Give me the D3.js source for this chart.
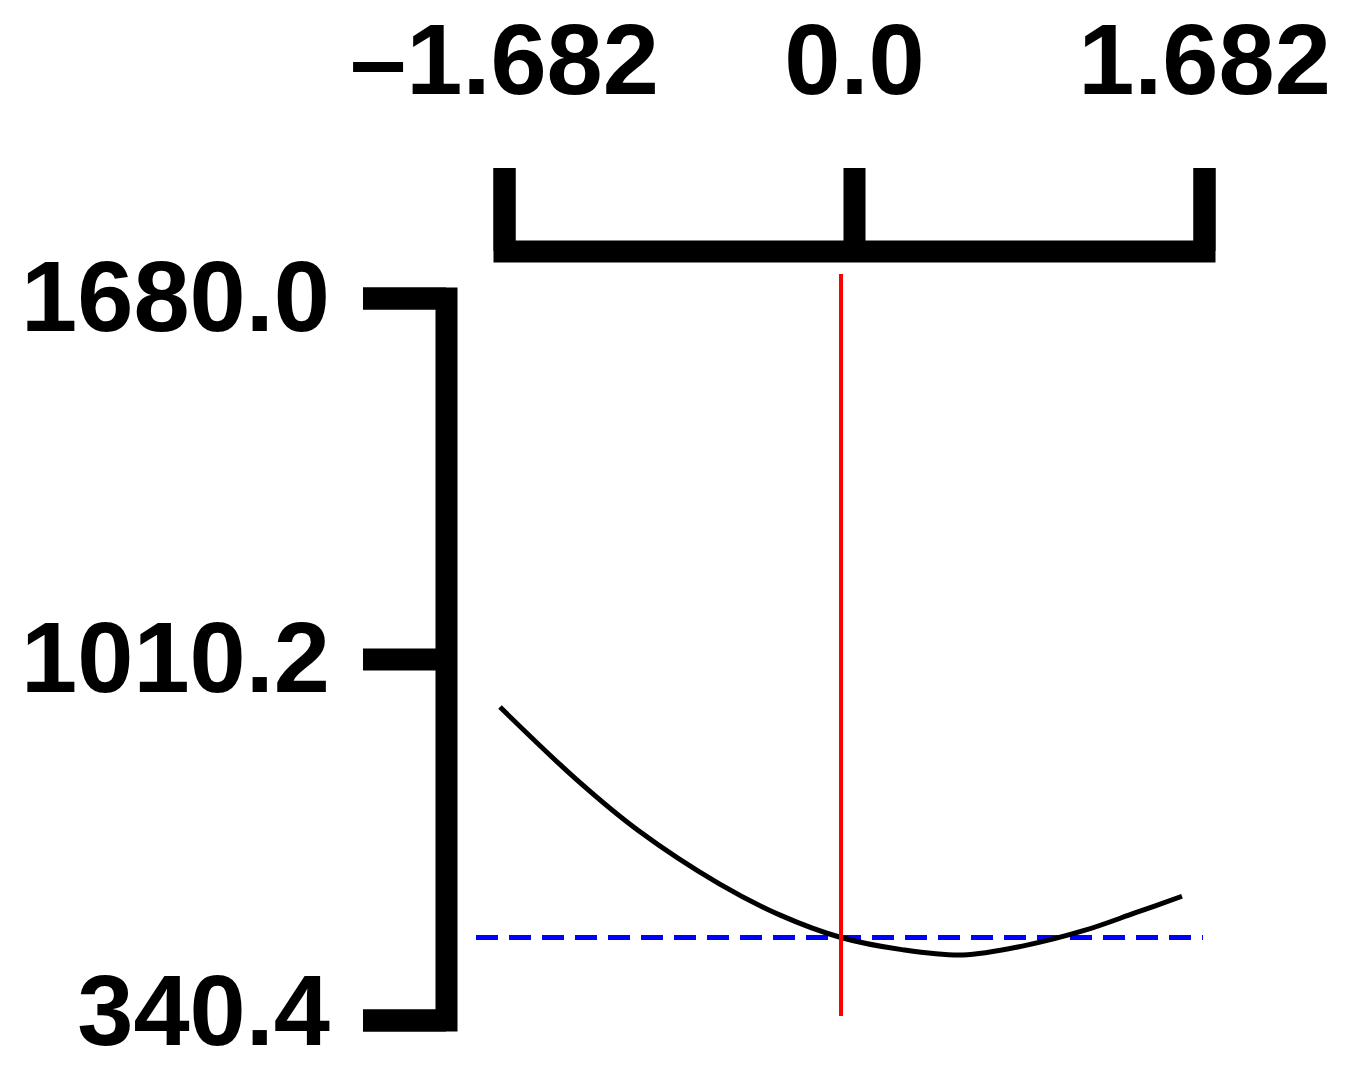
<!DOCTYPE html>
<html lang="en">
	<head>
		<meta charset="utf-8">
		<title> Profiler chart </title>
		<script type="text/javascript" src="https://cdn.jsdelivr.net/npm/d3@7/dist/d3.min.js"></script>
		<style>
			body { margin: 0; background: #ffffff; }
		</style>
	</head>
	<body>
		<script type="text/javascript">
			// tick values and labels
			var xTicks = [-1.682, 0.0, 1.682];
			var xTickLabels = ["\u20131.682", "0.0", "1.682"];
			var yTicks = [340.4, 1010.2, 1680.0];
			var yTickLabels = ["340.4", "1010.2", "1680.0"];

			// response curve
			var curveX = [-1.682, -1.3, -1.0, -0.6, -0.3, 0.0, 0.3, 0.6, 0.9, 1.2, 1.45, 1.682];
			var curveY = [921.0, 785.0, 692.0, 593.0, 535.0, 493.5, 471.0, 461.0, 478.0, 506.5, 539.0, 570.0];

			// current setting (red line) and its response (blue dashed line)
			var currentX = 0.0;
			var currentY = 493.5;

			var w = 1352;
			var h = 1067;
			var tickLen = 83;
			var axisWidth = 22;
			var fontSize = 101;

			var svg = d3.select("body")
				.append("svg")
				.attr("width", w)
				.attr("height", h);

			var xAxisScale = d3.scaleLinear()
				.domain([-1.682, 1.682])
				.range([504, 1204]);

			var xPlot = d3.scaleLinear()
				.domain([-1.682, 1.682])
				.range([500, 1182]);

			var y = d3.scaleLinear()
				.domain([340.4, 1680.0])
				.range([1020, 298]);

			// top axis
			var gx = svg.append("g")
				.attr("transform", "translate(0,251)")
				.call(d3.axisTop(xAxisScale)
					.tickValues(xTicks)
					.tickFormat(function(d, i){ return xTickLabels[i]; })
					.tickSize(tickLen)
					.tickSizeOuter(tickLen)
					.tickPadding(74));

			// left axis
			var gy = svg.append("g")
				.attr("transform", "translate(446,0)")
				.call(d3.axisLeft(y)
					.tickValues(yTicks)
					.tickFormat(function(d, i){ return yTickLabels[i]; })
					.tickSize(tickLen)
					.tickSizeOuter(tickLen)
					.tickPadding(33));

			[gx, gy].forEach(function(g){
				g.attr("font-family", "'Liberation Sans', Arial, sans-serif")
					.attr("font-size", fontSize)
					.attr("font-weight", "bold");
				g.select(".domain")
					.attr("stroke", "#000")
					.attr("stroke-width", axisWidth)
					.attr("stroke-linejoin", "miter");
				g.selectAll(".tick line")
					.attr("stroke", "#000")
					.attr("stroke-width", axisWidth);
				g.selectAll(".tick text").attr("fill", "#000");
			});

			// bottom y label sits a little higher than its tick
			gy.selectAll(".tick text")
				.attr("dy", function(d){ return d === 340.4 ? "0.24em" : "0.32em"; });

			// blue dashed response line
			svg.append("line")
				.attr("x1", 476)
				.attr("x2", 1203)
				.attr("y1", y(currentY))
				.attr("y2", y(currentY))
				.attr("stroke", "#0000ff")
				.attr("stroke-width", 5)
				.attr("stroke-dasharray", "22,11");

			// response curve
			var pts = curveX.map(function(d, i){ return [d, curveY[i]]; });
			var line = d3.line()
				.x(function(d){ return xPlot(d[0]); })
				.y(function(d){ return y(d[1]); })
				.curve(d3.curveCatmullRom.alpha(0.5));

			svg.append("path")
				.datum(pts)
				.attr("d", line)
				.attr("fill", "none")
				.attr("stroke", "#000")
				.attr("stroke-width", 5);

			// red current-setting line
			svg.append("line")
				.attr("x1", xPlot(currentX))
				.attr("x2", xPlot(currentX))
				.attr("y1", 274)
				.attr("y2", 1016)
				.attr("stroke", "#ff0000")
				.attr("stroke-width", 4);
		</script>
	</body>
</html>
